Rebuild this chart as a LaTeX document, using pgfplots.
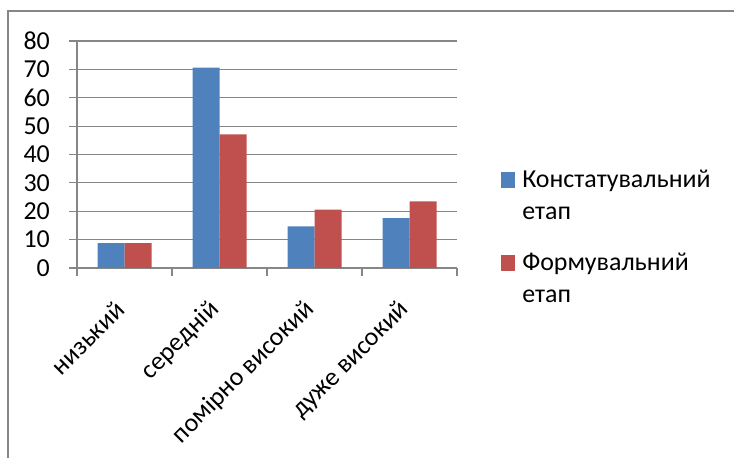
\documentclass[border=0pt]{standalone}
\usepackage{pgfplots}
\pgfplotsset{compat=1.18}
\usepackage{fontspec}
\setmainfont{Carlito}
\definecolor{exblue}{HTML}{4F81BD}
\definecolor{exred}{HTML}{C0504D}
\definecolor{exgrid}{HTML}{868686}
\begin{document}
\begin{tikzpicture}[x=1bp,y=1bp]
\useasboundingbox (0,0) rectangle (734,458);
\draw[exgrid, line width=1.3bp] (8,0) -- (8,447) -- (734,447);
\begin{axis}[
  at={(77bp,190bp)}, anchor=south west,
  scale only axis, width=380bp, height=227bp,
  xmin=-0.5, xmax=3.5, ymin=0, ymax=80,
  enlargelimits=false,
  ybar=0pt, bar width=27bp,
  axis x line*=bottom, axis y line*=left,
  axis line style={exgrid, line width=1.2bp, -},
  ytick={0,10,...,80},
  ymajorgrids, grid style={exgrid, line width=1.2bp},
  tick style={exgrid, line width=1.2bp},
  tick align=outside, major tick length=8bp,
  xtick={-0.5,0.5,1.5,2.5,3.5},
  x tick label as interval,
  xticklabels={низький,середній,помірно високий,дуже високий},
  tick label style={font=\fontsize{26}{30}\selectfont, text=black},
  /pgf/number format/assume math mode=true,
  yticklabel style={anchor=east, inner sep=0pt, xshift=-19bp},
  xticklabel style={rotate=45, anchor=east, inner sep=0pt, yshift=-18bp, xshift=-24bp},
  legend style={draw=none, fill=none, at={(1.116,0.44)}, anchor=north west,
    inner sep=0pt, font=\fontsize{26}{32}\selectfont, cells={align=left},
    row sep=28bp, column sep=5bp},
  legend cell align=left,
  legend image code/.code={\fill[#1] (0bp,8bp) rectangle (14bp,24bp);},
]
\addplot[fill=exblue, draw=none] coordinates {(0,8.8) (1,70.6) (2,14.7) (3,17.6)};
\addplot[fill=exred, draw=none] coordinates {(0,8.8) (1,47.1) (2,20.6) (3,23.5)};
\legend{Констатувальний\\етап, Формувальний\\етап}
\end{axis}
\end{tikzpicture}
\end{document}
